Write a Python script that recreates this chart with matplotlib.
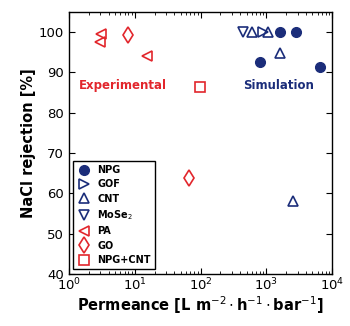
import matplotlib
matplotlib.use("Agg")
import matplotlib.pyplot as plt

navy = '#1b2d7a'
red = '#e2262c'

# simulation data
npg_x = [1630, 2800, 800, 6500]
npg_y = [100, 100, 92.7, 91.3]
gof_x = [890]
gof_y = [100]
cnt_x = [610, 1070, 1620, 2500]
cnt_y = [100, 100, 94.8, 58.0]
mose2_x = [435]
mose2_y = [100]

# experimental data
pa_x = [3.1, 3.0, 15.5]
pa_y = [99.5, 97.6, 94.0]
go_x = [8.0, 67]
go_y = [99.2, 63.9]
npgcnt_x = [99]
npgcnt_y = [86.5]

fig = plt.figure(figsize=(3.5, 3.26), dpi=100)
ax = fig.add_axes([0.197, 0.160, 0.752, 0.803])

ms = 7
mew = 1.2
ax.plot(npg_x, npg_y, 'o', color=navy, ms=ms, label='NPG')
ax.plot(gof_x, gof_y, '>', mfc='none', mec=navy, ms=ms, mew=mew, label='GOF')
ax.plot(cnt_x, cnt_y, '^', mfc='none', mec=navy, ms=ms, mew=mew, label='CNT')
ax.plot(mose2_x, mose2_y, 'v', mfc='none', mec=navy, ms=ms, mew=mew, label='MoSe$_2$')
ax.plot(pa_x, pa_y, '<', mfc='none', mec=red, ms=ms, mew=mew, label='PA')
ax.plot(go_x, go_y, 'd', mfc='none', mec=red, ms=ms + 1, mew=mew, label='GO')
ax.plot(npgcnt_x, npgcnt_y, 's', mfc='none', mec=red, ms=ms, mew=mew, label='NPG+CNT')

ax.set_xscale('log')
ax.set_xlim(1, 1e4)
ax.set_ylim(40, 105)
ax.set_yticks(range(40, 101, 10))

ax.tick_params(which='both', direction='in', top=True, right=True, labelsize=9.5)
ax.tick_params(which='major', length=4)
ax.tick_params(which='minor', length=2)
ax.tick_params(axis='x', pad=2)
for s in ax.spines.values():
    s.set_linewidth(1.0)

ax.set_xlabel(r'Permeance [L m$^{-2}\cdot$h$^{-1}\cdot$bar$^{-1}$]',
              fontsize=10.5, fontweight='bold', labelpad=1)
ax.set_ylabel('NaCl rejection [%]', fontsize=10.5, fontweight='bold', labelpad=2)

ax.text(6.6, 86.8, 'Experimental', color=red,
        fontsize=8.5, fontweight='bold', ha='center', va='center')
ax.text(1510, 86.8, 'Simulation', color=navy,
        fontsize=8.5, fontweight='bold', ha='center', va='center')

leg = ax.legend(loc='lower left', prop={'size': 7, 'weight': 'bold'},
                fancybox=False, edgecolor='black', framealpha=1,
                borderaxespad=0.45, handletextpad=0.7, labelspacing=0.45,
                handlelength=1.3, borderpad=0.45)
leg.get_frame().set_linewidth(1.0)

plt.savefig('out.png', dpi=100)
